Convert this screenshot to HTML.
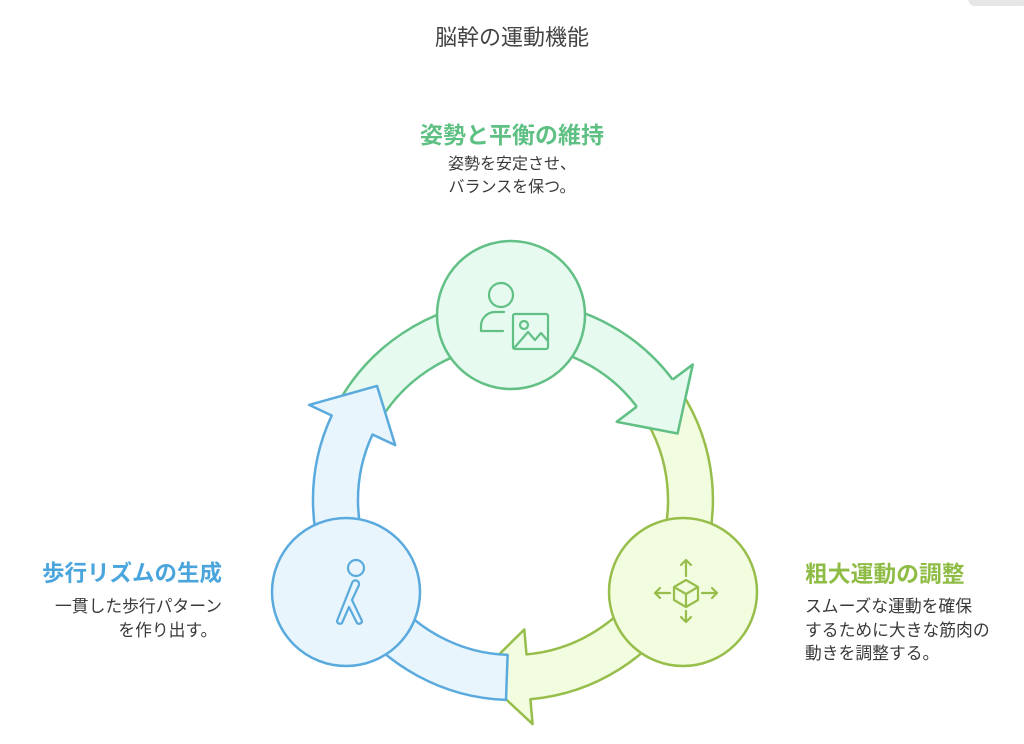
<!DOCTYPE html>
<html><head><meta charset="utf-8">
<style>
html,body{margin:0;padding:0;background:#fff;}
body{width:1024px;height:744px;overflow:hidden;position:relative;font-family:"Liberation Sans","Noto Sans CJK JP",sans-serif;}
.t{position:absolute;white-space:nowrap;}
</style></head><body>
<div style="position:absolute;left:968px;top:-8px;width:60px;height:14px;border-radius:7px;background:#e6e6e6;"></div>
<div class="t" style="left:0;width:1024px;text-align:center;top:20px;font-size:22px;color:#444;">脳幹の運動機能</div>
<div class="t" style="left:0;width:1024px;text-align:center;top:116px;font-size:23px;font-weight:bold;color:#5fc084;">姿勢と平衡の維持</div>
<div class="t" style="left:0;width:1024px;text-align:center;top:153px;font-size:16px;line-height:23px;color:#3a3a3a;">姿勢を安定させ、<br>バランスを保つ。</div>
<div class="t" style="left:22px;width:200px;text-align:right;top:556px;font-size:22.5px;font-weight:bold;color:#4aa5dc;">歩行リズムの生成</div>
<div class="t" style="left:22px;width:200px;text-align:right;top:595px;font-size:16.8px;line-height:23.5px;color:#3a3a3a;">一貫した歩行パターン<br>を作り出す。&nbsp;</div>
<div class="t" style="left:805px;top:556px;font-size:22.8px;font-weight:bold;color:#8fbc45;">粗大運動の調整</div>
<div class="t" style="left:805px;top:595px;font-size:16.8px;line-height:23.5px;color:#3a3a3a;">スムーズな運動を確保<br>するために大きな筋肉の<br>動きを調整する。</div>
<svg width="1024" height="744" style="position:absolute;left:0;top:0;" fill="none" stroke-linejoin="round" stroke-width="2.5">
<path d="M339.8,400 A200,200 0 0 1 672.7,379.6 L692.7,364.6 L677.6,433.5 L616.8,421.8 L636.8,406.7 A155,155 0 0 0 378.8,422.5 Z" fill="#e6faf0" stroke="#62c085"/>
<path d="M680.7,391.1 A200,200 0 0 1 530.4,699.2 L532.6,724.1 L479.1,674.2 L524.3,629.5 L526.5,654.4 A155,155 0 0 0 643,415.6 Z" fill="#f2fde0" stroke="#97bd4a"/>
<path d="M506,699.9 A200,200 0 0 1 331.7,415.5 L309.1,404.9 L377,385.9 L395.2,445.1 L372.5,434.5 A155,155 0 0 0 507.6,654.9 Z" fill="#e8f5fd" stroke="#5aaade"/>
<path d="M672.7,379.6 L692.7,364.6 L677.6,433.5 L616.8,421.8 L636.8,406.7 Z" fill="#e6faf0" stroke="none"/>
<path d="M672.7,379.6 L692.7,364.6 L677.6,433.5 L616.8,421.8 L636.8,406.7" stroke="#62c085"/>
<circle cx="511" cy="315" r="74" fill="#e6faf0" stroke="#62c085"/>
<circle cx="346" cy="592" r="74" fill="#e8f5fd" stroke="#5aaade"/>
<circle cx="683" cy="592" r="74" fill="#f2fde0" stroke="#97bd4a"/>
<g stroke="#62c085" stroke-width="2.2" stroke-linecap="round">
<circle cx="501" cy="295" r="12"/>
<path d="M504,312 H495 a14,14 0 0 0 -14,14 V331 H503"/>
<rect x="513" y="314" width="35" height="35" rx="2"/>
<circle cx="524" cy="325" r="4"/>
<path d="M515,347 L528,332 L535,340 L541,333 L547,340"/>
</g>
<g stroke="#5aaade" stroke-width="2.2" stroke-linecap="round">
<circle cx="356" cy="568" r="8"/>
<path d="M352,583 L337,621 a3,3 0 0 0 5,2 L349,607 L357,623 a3,3 0 0 0 5,-2 L352,600 L359,585 a3,3 0 0 0 -7,-2"/>
</g>
<g stroke="#97bd4a" stroke-width="2.2" stroke-linecap="round">
<path d="M686,580 L698,587 V600 L686,607 L674,600 V587 Z M674,587 L686,594 L698,587 M686,594 V607"/>
<path d="M686,576 V560 M681,565 L686,560 L691,565"/>
<path d="M686,611 V622 M681,617 L686,622 L691,617"/>
<path d="M670,593 H655 M660,588 L655,593 L660,598"/>
<path d="M702,593 H717 M712,588 L717,593 L712,598"/>
</g>
</svg>
</body></html>
